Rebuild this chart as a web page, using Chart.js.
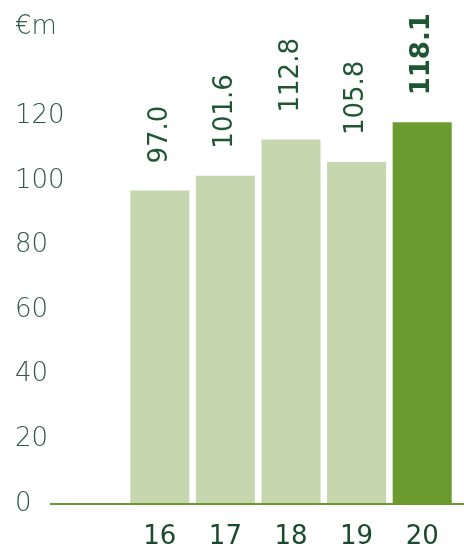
<!DOCTYPE html>
<html><head><meta charset="utf-8">
<script src="https://cdn.jsdelivr.net/npm/chart.js@4/dist/chart.umd.min.js"></script>
<style>html,body{margin:0;padding:0;background:#fff}#wrap{width:464px;height:559px}</style>
</head><body><div id="wrap"><canvas id="c"></canvas></div>
<script>
const categories = ['16', '17', '18', '19', '20'];
const revenue = [97.0, 101.6, 112.8, 105.8, 118.1];
const yTicks = [0, 20, 40, 60, 80, 100, 120];
const unitLabel = '€m';

const LIGHT = '#c6d6ae', DARK = '#6b9b2f', LINE = '#6b9b2f';
const TICK_COL = '#2f5a47', XLAB_COL = '#1b4a2e', VAL_COL = '#1f5735';
const FONT = '"DejaVu Sans", sans-serif';

const valueLabels = {
  id: 'valueLabels',
  afterDatasetsDraw(chart) {
    const ctx = chart.ctx;
    const meta = chart.getDatasetMeta(0);
    meta.data.forEach((bar, i) => {
      const last = i === revenue.length - 1;
      ctx.save();
      ctx.translate(bar.x, bar.y - 27);
      ctx.rotate(-Math.PI / 2);
      ctx.font = (last ? 'bold ' : '') + '26px ' + FONT;
      ctx.fillStyle = VAL_COL;
      ctx.textAlign = 'left';
      ctx.textBaseline = 'middle';
      ctx.fillText(revenue[i].toFixed(1), 0, 0);
      ctx.restore();
    });
  }
};

const zeroColor = (c) => (c.tick && c.tick.value === 0) ? LINE : 'rgba(0,0,0,0)';

new Chart(document.getElementById('c'), {
  type: 'bar',
  data: {
    labels: categories,
    datasets: [{
      data: revenue,
      backgroundColor: revenue.map((v, i) => i === revenue.length - 1 ? DARK : LIGHT),
      barPercentage: 0.9,
      categoryPercentage: 1.0,
      borderWidth: 0
    }]
  },
  options: {
    responsive: true,
    maintainAspectRatio: false,
    animation: false,
    layout: { padding: { left: 15, right: 0, top: 0, bottom: 10 } },
    plugins: {
      legend: { display: false },
      tooltip: { enabled: false },
      title: {
        display: true, text: unitLabel, align: 'start', color: TICK_COL,
        font: { family: FONT, size: 26, weight: 200 },
        padding: { top: 12, bottom: 73 }
      }
    },
    scales: {
      x: {
        grid: { display: false },
        border: { display: false },
        afterFit: (s) => { s.height = 45; },
        ticks: { color: XLAB_COL, font: { family: FONT, size: 26 }, padding: 10 }
      },
      y: {
        min: 0, max: 120,
        afterBuildTicks: (s) => { s.ticks = yTicks.map(v => ({ value: v })); },
        afterFit: (s) => { s.width = 112; },
        border: { display: false },
        grid: { color: zeroColor, lineWidth: 2, tickLength: 77, drawTicks: true },
        ticks: { color: TICK_COL, crossAlign: 'far', padding: 0,
          font: { family: FONT, size: 26, weight: 200 } }
      },
      y2: {
        position: 'right', min: 0, max: 120,
        afterBuildTicks: (s) => { s.ticks = yTicks.map(v => ({ value: v })); },
        border: { display: false },
        grid: { color: zeroColor, lineWidth: 2, tickLength: 9, drawOnChartArea: false },
        ticks: { display: false }
      }
    }
  },
  plugins: [valueLabels]
});
</script></body></html>
